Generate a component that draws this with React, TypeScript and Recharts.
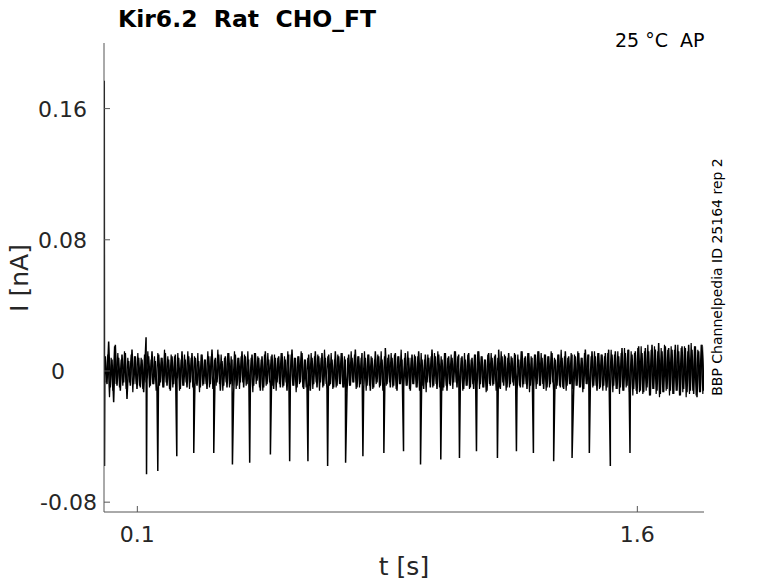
import React from 'react';
import { LineChart, Line, XAxis, YAxis } from 'recharts';

// Noise of the recorded current, in pA, sampled every 5 ms from t = 4 ms
const noisePA: number[] = [
  9, -8, 18, -10, 7, -19, 16, -9, 8, -12, 10, -7, 11, -17, 6, -9, 13, -8, 9, -11,
  8, -10, 7, -13, 10, -6, 9, -9, 12, -8, 6, -11, 10, -7, 8, -10, 11, -9, 7, -12,
  9, -8, 10, -6, 8, -11, 12, -9, 7, -10, 9, -7, 11, -12, 8, -9, 6, -10, 10, -8,
  7, -11, 9, -8, 13, -9, 8, -7, 10, -12, 6, -9, 9, -10, 11, -8, 7, -13, 10, -9,
  8, -7, 12, -10, 9, -8, 7, -11, 10, -9, 11, -6, 8, -12, 9, -10, 12, -8, 7, -9,
  10, -11, 8, -7, 9, -10, 11, -9, 7, -12, 10, -8, 13, -9, 8, -10, 9, -7, 11, -11,
  7, -9, 10, -12, 8, -8, 12, -10, 9, -7, 11, -9, 8, -11, 10, -8, 7, -10, 12, -9,
  9, -8, 11, -10, 7, -12, 10, -9, 8, -7, 13, -10, 9, -8, 11, -11, 8, -9, 10, -12,
  8, -10, 12, -7, 9, -9, 7, -11, 14, -8, 10, -10, 8, -9, 11, -12, 9, -8, 7, -10,
  11, -9, 8, -12, 10, -8, 9, -10, 12, -9, 7, -11, 10, -7, 8, -10, 13, -9, 9, -11,
  10, -8, 7, -10, 11, -12, 9, -9, 8, -7, 12, -10, 10, -8, 9, -11, 7, -9, 11, -10,
  8, -11, 10, -9, 12, -8, 9, -10, 7, -12, 11, -9, 8, -8, 10, -10, 13, -11, 9, -9,
  9, -10, 11, -8, 8, -9, 10, -12, 7, -10, 12, -8, 9, -11, 11, -9, 8, -10, 10, -8,
  12, -9, 8, -11, 10, -10, 9, -8, 11, -12, 7, -9, 10, -10, 8, -11, 12, -9, 9, -8,
  10, -12, 9, -9, 11, -10, 8, -11, 13, -8, 10, -10, 12, -9, 9, -12, 11, -10, 10, -9,
  11, -10, 13, -12, 10, -9, 12, -11, 9, -10, 14, -12, 11, -9, 13, -13, 10, -11, 12, -14,
  15, -12, 11, -13, 14, -10, 12, -15, 16, -11, 13, -12, 17, -14, 12, -13, 15, -11, 14, -12,
  13, -14, 16, -12, 12, -15, 15, -11, 14, -13, 16, -12, 13, -14, 15, -16, 12, -13, 16, -12,
];
// Second sweep of the same recording (pA), offset by 2.5 ms
const noiseBPA: number[] = [
  -7, 10, -16, 8, -12, 15, -8, 11, -10, 7, -9, 12, -11, 8, -7, 10, -13, 9, -8, 11,
  -9, 8, -11, 10, -7, 12, -10, 7, -8, 9, -12, 11, -9, 8, -10, 13, -7, 9, -11, 10,
  -10, 9, -8, 11, -12, 7, -9, 10, -7, 12, -11, 8, -10, 9, -8, 11, -13, 10, -9, 7,
  -8, 12, -10, 9, -11, 7, -9, 13, -8, 10, -12, 8, -7, 11, -10, 9, -9, 12, -11, 8,
  -11, 9, -7, 10, -9, 12, -10, 8, -13, 11, -8, 9, -10, 7, -12, 10, -9, 11, -7, 9,
  -9, 10, -12, 8, -8, 11, -10, 9, -7, 12, -11, 10, -9, 8, -13, 9, -8, 12, -10, 7,
  -10, 8, -9, 11, -11, 9, -7, 10, -12, 8, -10, 13, -8, 9, -9, 11, -11, 7, -10, 10,
  -8, 11, -10, 9, -13, 8, -9, 12, -7, 10, -11, 9, -10, 8, -8, 12, -12, 10, -9, 9,
  -11, 7, -8, 10, -10, 12, -12, 9, -9, 8, -7, 11, -10, 10, -11, 9, -8, 13, -12, 8,
  -9, 12, -11, 8, -8, 10, -10, 9, -12, 11, -9, 7, -13, 10, -7, 9, -10, 11, -8, 12,
  -10, 9, -12, 11, -9, 8, -8, 10, -11, 12, -7, 9, -10, 8, -12, 11, -9, 10, -11, 7,
  -8, 10, -9, 12, -11, 9, -10, 7, -13, 10, -8, 11, -9, 9, -12, 8, -10, 12, -7, 10,
  -12, 8, -10, 9, -7, 11, -11, 10, -9, 12, -10, 8, -8, 11, -13, 9, -9, 10, -11, 12,
  -9, 11, -8, 10, -12, 9, -10, 12, -7, 8, -11, 10, -9, 13, -10, 9, -12, 8, -8, 11,
  -11, 10, -9, 12, -10, 8, -13, 11, -8, 10, -12, 9, -10, 12, -9, 11, -11, 10, -12, 9,
  -12, 11, -10, 13, -13, 10, -11, 12, -14, 11, -12, 14, -10, 13, -13, 12, -15, 11, -12, 14,
  -13, 15, -14, 12, -12, 16, -15, 13, -11, 15, -14, 12, -16, 14, -13, 16, -12, 13, -15, 15,
  -14, 13, -12, 16, -15, 14, -13, 15, -16, 12, -14, 17, -12, 15, -15, 13, -13, 16, -14, 15,
];
const noiseStart = 0.004;
const noiseBStart = 0.0065;
const noiseStep = 0.005;

// Downward spikes (s, nA)
const spikeTimes: number[] = [
  0.1276, 0.1614, 0.2184, 0.2693, 0.3293, 0.3853, 0.4371, 0.4992, 0.557, 0.6118,
  0.6709, 0.7248, 0.7767, 0.8396, 0.8986, 0.9496, 1.0104, 1.0664, 1.1174, 1.1803,
  1.2373, 1.2882, 1.349, 1.4042, 1.456, 1.519, 1.578,
];
const spikeDepths: number[] = [
  -0.063, -0.061, -0.052, -0.05, -0.05, -0.057, -0.056, -0.051, -0.055, -0.055,
  -0.058, -0.056, -0.052, -0.05, -0.049, -0.057, -0.054, -0.053, -0.049, -0.053,
  -0.049, -0.05, -0.055, -0.053, -0.05, -0.058, -0.05,
];

// Start transient and the single upward blip
const transientTimes: number[] = [0, 0.0008, 0.0016, 0.0026, 0.1262];
const transientValues: number[] = [0.002, 0.177, -0.058, 0.004, 0.0205];

const xTicks: number[] = [0.1, 1.6];
const xTickLabels: string[] = ['0.1', '1.6'];
const yTicks: number[] = [-0.08, 0, 0.08, 0.16];
const yTickLabels: string[] = ['-0.08', '0', '0.08', '0.16'];

const title = 'Kir6.2\u00a0\u00a0Rat\u00a0\u00a0CHO_FT';
const cornerText = '25 °C\u00a0\u00a0AP';
const sideText = 'BBP Channelpedia ID 25164 rep 2';

const W = 778;
const H = 583;
const PLOT_LEFT = 104;
const PLOT_BOTTOM = 512;
const Y_AXIS_W = 60;
const X_AXIS_H = 40;
const M = { top: 43, right: 74, bottom: H - PLOT_BOTTOM - X_AXIS_H, left: PLOT_LEFT - Y_AXIS_W };
const FONT = 'DejaVu Sans';
const AXIS = '#555555';
const TXT = '#262626';

type Row = { t: number; v: number };
const rows: Row[] = [];
transientTimes.forEach((t, i) => rows.push({ t, v: transientValues[i] }));
noisePA.forEach((p, i) => rows.push({ t: noiseStart + i * noiseStep, v: p / 1000 }));
spikeTimes.forEach((t, i) => rows.push({ t, v: spikeDepths[i] }));
rows.sort((a, b) => a.t - b.t);

const rowsB: Row[] = noiseBPA.map((p, i) => ({ t: noiseBStart + i * noiseStep, v: p / 1000 }));

const yLabelRight: Record<string, number> = { '0.16': 87, '0.08': 87, '0': 65, '-0.08': 97 };

const YTick = (props: any) => {
  const { y, payload } = props;
  const idx = yTicks.indexOf(payload.value);
  const label = idx >= 0 ? yTickLabels[idx] : String(payload.value);
  return (
    <g>
      <line x1={PLOT_LEFT} x2={PLOT_LEFT + 6} y1={y} y2={y} stroke={AXIS} strokeWidth={1} />
      <text x={yLabelRight[label] ?? 87} y={y + 8} textAnchor="end" fontFamily={FONT} fontSize={22} fill={TXT}>
        {label}
      </text>
    </g>
  );
};

const XTick = (props: any) => {
  const { x, payload } = props;
  const idx = xTicks.indexOf(payload.value);
  const label = idx >= 0 ? xTickLabels[idx] : String(payload.value);
  return (
    <g>
      <line x1={x} x2={x} y1={PLOT_BOTTOM} y2={PLOT_BOTTOM - 6} stroke={AXIS} strokeWidth={1} />
      <text x={x} y={PLOT_BOTTOM + 30} textAnchor="middle" fontFamily={FONT} fontSize={22} fill={TXT}>
        {label}
      </text>
    </g>
  );
};

export default function App() {
  return (
    <div style={{ position: 'absolute', left: 0, top: 0, width: W, height: H, background: '#fff' }}>
      <LineChart width={W} height={H} data={rows} margin={M}>
        <XAxis
          type="number"
          dataKey="t"
          domain={[0, 1.8]}
          ticks={xTicks}
          height={X_AXIS_H}
          tickLine={false}
          axisLine={{ stroke: AXIS, strokeWidth: 1 }}
          tick={<XTick />}
          allowDataOverflow
          interval={0}
        />
        <YAxis
          type="number"
          dataKey="v"
          domain={[-0.086, 0.2]}
          ticks={yTicks}
          width={Y_AXIS_W}
          tickLine={false}
          axisLine={{ stroke: AXIS, strokeWidth: 1 }}
          tick={<YTick />}
          allowDataOverflow
          interval={0}
        />
        <Line
          type="linear"
          data={rowsB}
          dataKey="v"
          stroke="#000000"
          strokeWidth={1.2}
          dot={false}
          activeDot={false}
          isAnimationActive={false}
        />
        <Line
          type="linear"
          dataKey="v"
          stroke="#000000"
          strokeWidth={1.5}
          dot={false}
          activeDot={false}
          isAnimationActive={false}
        />
        <text x={118} y={27} fontFamily={FONT} fontWeight="bold" fontSize={23.5} fill="#000">
          {title}
        </text>
        <text x={615} y={47} fontFamily={FONT} fontSize={19} fill="#000">
          {cornerText}
        </text>
        <text
          x={722}
          y={277}
          transform="rotate(-90 722 277)"
          textAnchor="middle"
          fontFamily={FONT}
          fontSize={14}
          fill="#000"
        >
          {sideText}
        </text>
        <text
          x={28}
          y={278}
          transform="rotate(-90 28 278)"
          textAnchor="middle"
          fontFamily={FONT}
          fontSize={25}
          fill={TXT}
        >
          I [nA]
        </text>
        <text x={404} y={575} textAnchor="middle" fontFamily={FONT} fontSize={25} fill={TXT}>
          t [s]
        </text>
      </LineChart>
    </div>
  );
}
